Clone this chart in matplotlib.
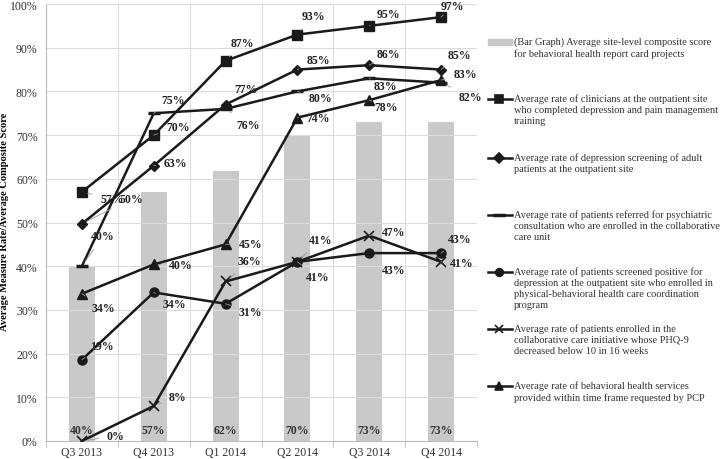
import numpy as np
import matplotlib
matplotlib.use("Agg")
import matplotlib.pyplot as plt
from matplotlib.lines import Line2D
from matplotlib.patches import Rectangle

plt.rcParams["font.family"] = ["Liberation Serif", "DejaVu Serif"]

quarters = ["Q3 2013", "Q4 2013", "Q1 2014", "Q2 2014", "Q3 2014", "Q4 2014"]
composite = [40, 57, 61.7, 70, 73, 73]
composite_lbl = ["40%", "57%", "62%", "70%", "73%", "73%"]
training = [57, 70, 87, 93, 95, 97]
screening = [49.7, 63, 77, 85, 86, 85]
referred = [40, 75, 76, 80, 83, 82]
enrolled = [18.6, 34, 31.4, 41, 43, 43]
phq9 = [0, 8, 36.5, 41, 47, 41]
timely = [33.7, 40.4, 45, 74, 78, 82.6]

labels_training = ["57%", "70%", "87%", "93%", "95%", "97%"]
labels_screening = ["50%", "63%", "77%", "85%", "86%", "85%"]
labels_referred = ["40%", "75%", "76%", "80%", "83%", "82%"]
labels_enrolled = ["19%", "34%", "31%", "41%", "43%", "43%"]
labels_phq9 = ["0%", "8%", "36%", "41%", "47%", "41%"]
labels_timely = ["34%", "40%", "45%", "74%", "78%", "83%"]

legend_texts = [
    "(Bar Graph) Average site-level composite score\nfor behavioral health report card projects",
    "Average rate of clinicians at the outpatient site\nwho completed depression and pain management\ntraining",
    "Average rate of depression screening of adult\npatients at the outpatient site",
    "Average rate of patients referred for psychiatric\nconsultation who are enrolled in the collaborative\ncare unit",
    "Average rate of patients screened positive for\ndepression at the outpatient site who enrolled in\nphysical-behavioral health care coordination\nprogram",
    "Average rate of patients enrolled in the\ncollaborative care initiative whose PHQ-9\ndecreased below 10 in 16 weeks",
    "Average rate of behavioral health services\nprovided within time frame requested by PCP",
]

# label offsets in pixels (dx, dy), y up
off_training = [(30, -7), (24, 8), (17, 18), (16, 19), (19, 12), (11, 11)]
off_screening = [(49, 25), (22, 3), (20, 16), (21, 10), (19, 11), (18, 15)]
off_referred = [(21, 30), (19, 13), (23, -16), (23, -7), (16, -8), (29, -14)]
off_enrolled = [(20, 14), (21, -12), (25, -8), (23, 22), (24, -17), (19, 14)]
off_phq9 = [(34, 5), (24, 9), (24, 20), (20, -15), (24, 4), (21, -1)]
off_timely = [(21, -14), (27, -1), (25, 0), (21, 0), (17, -7), (24, 6)]

fig = plt.figure(figsize=(7.2, 4.6), dpi=100)
ax = fig.add_axes([46 / 720, 18 / 460, 431 / 720, 437 / 460])

x = np.arange(len(quarters))
ax.bar(x, composite, width=0.36, color="#c9c9c9", zorder=1)
for xi, lbl in zip(x, composite_lbl):
    ax.annotate(lbl, (xi, 0), xytext=(0, 11), textcoords="offset pixels",
                ha="center", va="center", fontsize=8.5, fontweight="bold",
                color="#333333", zorder=5)

series = [
    (training, labels_training, off_training, dict(marker="s", ms=7)),
    (screening, labels_screening, off_screening, dict(marker="D", ms=5.5)),
    (referred, labels_referred, off_referred, dict(marker="_", ms=8, mew=2.5)),
    (enrolled, labels_enrolled, off_enrolled, dict(marker="o", ms=6.5)),
    (phq9, labels_phq9, off_phq9, dict(marker="x", ms=7, mew=1.2)),
    (timely, labels_timely, off_timely, dict(marker="^", ms=6.5)),
]
for vals, lbls, offs, style in series:
    ax.plot(x, vals, color="#1a1a1a", lw=1.8, zorder=3, **style)
    for xi, v, lbl, (dx, dy) in zip(x, vals, lbls, offs):
        ax.annotate(lbl, (xi, v), xytext=(dx, dy), textcoords="offset pixels",
                    ha="center", va="center", fontsize=8.5, fontweight="bold",
                    color="#222222", zorder=4,
                    arrowprops=dict(arrowstyle="-", color="#9a9a9a", lw=0.6,
                                    shrinkA=4, shrinkB=4))

ax.set_xlim(-0.5, 5.5)
ax.set_ylim(0, 100)
ax.set_yticks(np.arange(0, 101, 10))
ax.set_yticklabels([f"{v}%" for v in range(0, 101, 10)])
ax.set_xticks(x)
ax.set_xticklabels(quarters)
ax.set_xticks(np.arange(-0.5, 6, 1), minor=True)
ax.grid(False)
ax.yaxis.grid(True, color="#dcdcdc", lw=0.8, zorder=0)
ax.xaxis.grid(True, which="minor", color="#dcdcdc", lw=0.8, zorder=0)
ax.tick_params(axis="both", which="major", length=0, labelsize=8.5, colors="#333333")
ax.tick_params(axis="y", pad=6)
ax.tick_params(axis="x", which="minor", length=4, color="#bbbbbb")
for s in ["top", "right"]:
    ax.spines[s].set_visible(False)
ax.spines["left"].set_color("#bbbbbb")
ax.spines["bottom"].set_color("#bbbbbb")
ax.set_ylabel("Average Measure Rate/Average Composite Score", fontsize=7.6,
              fontweight="bold")
ax.yaxis.set_label_coords(-0.086, 0.503)

# legend drawn by hand so handles align with first text line
W, H = 720, 460
legend_y = [43, 100, 159, 216, 273, 330, 387]
markers = [None, "s", "D", "_", "o", "x", "^"]
for i, (txt, yy, mk) in enumerate(zip(legend_texts, legend_y, markers)):
    fy = 1 - yy / H
    if mk is None:
        fig.add_artist(Rectangle((488 / W, fy - 3 / H), 24 / W, 6 / H,
                                 transform=fig.transFigure, color="#c9c9c9"))
    else:
        kw = dict(mew=2.5, ms=8) if mk == "_" else dict(ms=5.5, mew=1.2)
        fig.add_artist(Line2D([488 / W, 512 / W], [fy, fy], color="#1a1a1a",
                              lw=1.8, transform=fig.transFigure))
        fig.add_artist(Line2D([499 / W], [fy], marker=mk, color="#1a1a1a",
                              transform=fig.transFigure, **kw))
    fig.text(514 / W, fy + 6 / H, txt, ha="left", va="top", fontsize=7.5,
             color="#333333", linespacing=1.3)

fig.savefig("out.png", dpi=100)
